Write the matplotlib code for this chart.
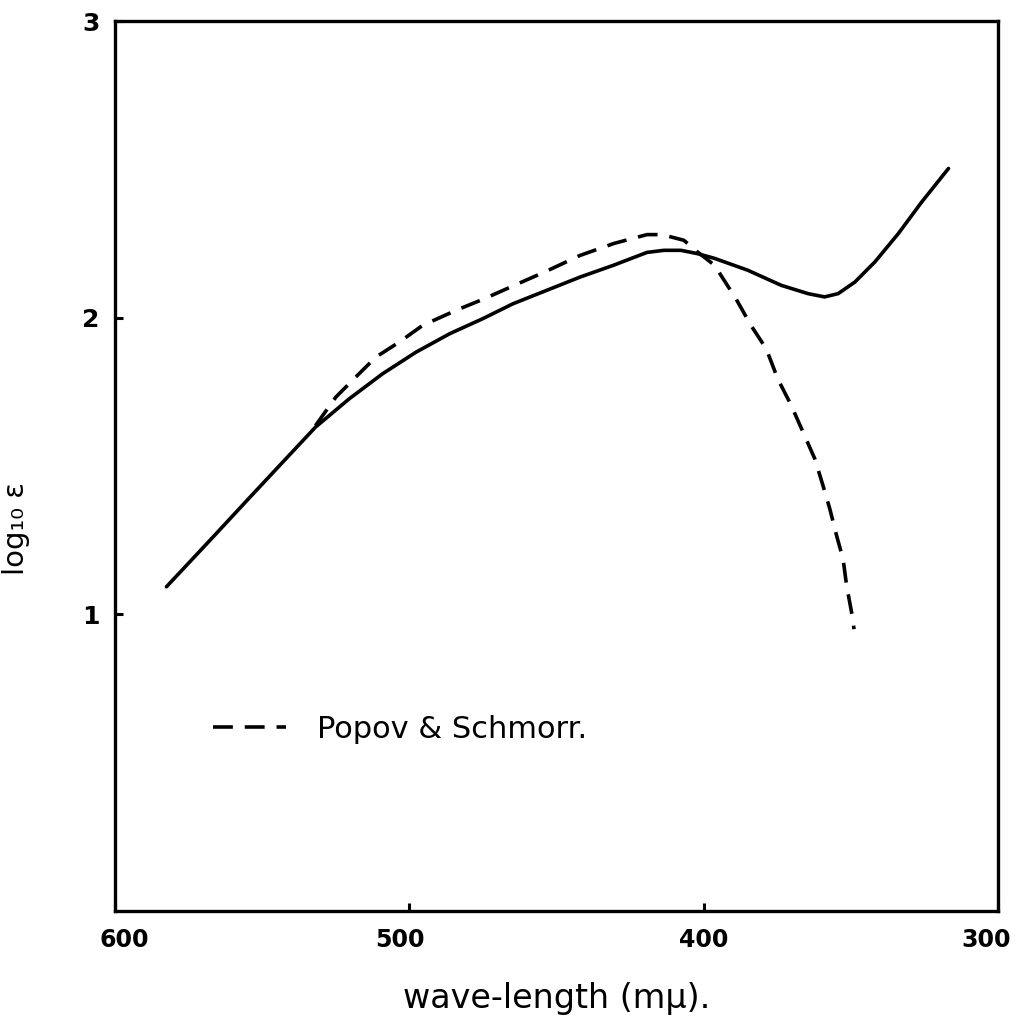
import matplotlib
matplotlib.use("Agg")
import matplotlib.pyplot as plt
from matplotlib.transforms import ScaledTranslation

# Solid curve (present work)
solid_wl = [582.5, 566.0, 554.6, 543.3, 531.9, 520.5, 509.1, 497.7, 486.3, 475.0, 464.8,
            453.4, 442.0, 430.6, 419.3, 413.6, 407.8, 402.2, 396.4, 385.1, 373.7, 364.6,
            359.0, 354.4, 348.7, 341.9, 333.9, 326.0, 316.9]
solid_loge = [1.093, 1.268, 1.39, 1.51, 1.631, 1.726, 1.811, 1.884, 1.946, 1.997, 2.047,
              2.092, 2.137, 2.177, 2.22, 2.227, 2.227, 2.216, 2.20, 2.16, 2.109, 2.081,
              2.07, 2.081, 2.12, 2.188, 2.284, 2.39, 2.503]

# Dashed curve (Popov & Schmorr.)
dash_wl = [531.9, 525.0, 518.2, 511.4, 503.4, 495.5, 484.1, 475.0, 464.8, 453.4, 442.0,
           430.6, 419.3, 414.2, 406.8, 402.2, 396.4, 389.1, 384.0, 378.8, 374.9, 370.3,
           366.3, 362.3, 359.5, 357.2, 354.9, 352.7, 351.5, 349.6, 349.0]
dash_loge = [1.636, 1.732, 1.80, 1.867, 1.918, 1.974, 2.025, 2.062, 2.107, 2.157, 2.21,
             2.25, 2.28, 2.28, 2.261, 2.222, 2.177, 2.064, 1.974, 1.895, 1.794, 1.704,
             1.614, 1.524, 1.433, 1.355, 1.265, 1.186, 1.096, 0.995, 0.95]

x_ticks = [600, 500, 400, 300]
x_ticklabels = ["600", "500", "400", "300"]
y_ticks = [1, 2, 3]
y_ticklabels = ["1", "2", "3"]

legend_label = "Popov & Schmorr."
x_label = "wave-length (mμ)."
y_label = "log₁₀ ε"

fig = plt.figure(figsize=(10.2, 10.35), dpi=100)
ax = fig.add_axes([0.1127, 0.1198, 0.866, 0.8599])

ax.plot(solid_wl, solid_loge, color="black", lw=2.6, solid_capstyle="round",
        solid_joinstyle="round")
ax.plot(dash_wl, dash_loge, color="black", lw=2.6, dashes=(5.5, 3.3),
        dash_capstyle="butt", dash_joinstyle="round", label=legend_label)

ax.set_xlim(600, 300)
ax.set_ylim(0, 3)
ax.set_xticks(x_ticks)
ax.set_xticklabels(x_ticklabels)
ax.set_yticks(y_ticks)
ax.set_yticklabels(y_ticklabels)

for s in ax.spines.values():
    s.set_linewidth(2.4)

ax.tick_params(axis="both", direction="in", length=6, width=2.2, labelsize=17)
ax.tick_params(axis="x", pad=12)
ax.tick_params(axis="y", pad=11, labelsize=18)
for lab in ax.get_xticklabels() + ax.get_yticklabels():
    lab.set_fontweight("bold")

# slight hand-lettered offsets of the x tick labels
offsets_px = [9, -9, 0, -12]
for lab, dx in zip(ax.get_xticklabels(), offsets_px):
    lab.set_transform(lab.get_transform() + ScaledTranslation(dx / 100, 0, fig.dpi_scale_trans))

ax.set_xlabel(x_label, fontsize=24)
ax.xaxis.set_label_coords(0.5, -0.08)
ax.set_ylabel(y_label, fontsize=21)
ax.yaxis.set_label_coords(-0.096, 0.43)

leg = ax.legend(loc="center left", bbox_to_anchor=(0.111, 0.204), frameon=False,
                fontsize=22, handlelength=2.4, handletextpad=1.0, borderpad=0,
                borderaxespad=0)

fig.savefig("out.png", dpi=100)
